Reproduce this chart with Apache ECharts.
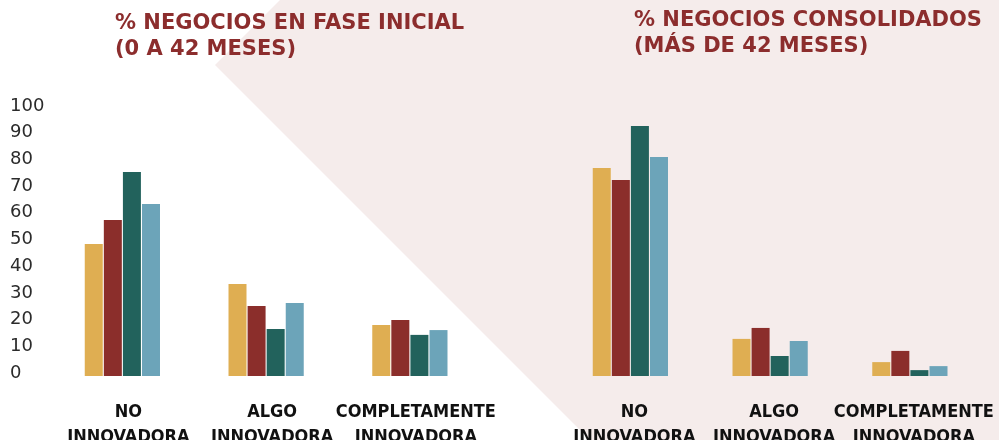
<!DOCTYPE html>
<html>
<head>
<meta charset="utf-8">
<script src="https://cdn.jsdelivr.net/npm/echarts@6/dist/echarts.min.js"></script>
<style>
  html, body { margin: 0; padding: 0; background: #fff; }
  #chart { width: 999px; height: 440px; }
</style>
</head>
<body>
<div id="chart"></div>
<script>
  // categories and values (percent)
  const categories = ['NO\nINNOVADORA', 'ALGO\nINNOVADORA', 'COMPLETAMENTE\nINNOVADORA']
  const yTicks = [0, 10, 20, 30, 40, 50, 60, 70, 80, 90, 100]
  const titles = ['% NEGOCIOS EN FASE INICIAL\n(0 A 42 MESES)', '% NEGOCIOS CONSOLIDADOS\n(MÁS DE 42 MESES)']

  // fase inicial
  const inicialA = [49.4, 34.5, 19.1]
  const inicialB = [58.4, 26.2, 21.0]
  const inicialC = [76.4, 17.6, 15.4]
  const inicialD = [64.4, 27.3, 17.2]
  // consolidados
  const consolA = [77.9, 13.9, 5.2]
  const consolB = [73.4, 18.0, 9.4]
  const consolC = [93.6, 7.5, 2.2]
  const consolD = [82.0, 13.1, 3.7]

  const colors = ['#dfae52', '#8b2e2b', '#22625c', '#6ca4b9']
  const panels = [
    [inicialA, inicialB, inicialC, inicialD],
    [consolA, consolB, consolC, consolD]
  ]

  const chart = echarts.init(document.getElementById('chart'))

  const grids = [
    { left: 50.5, width: 431.25, top: 109, bottom: 64, outerBoundsMode: 'none', containLabel: false },
    { left: 560.5, width: 419.25, top: 109, bottom: 64, outerBoundsMode: 'none', containLabel: false }
  ]

  const xAxis = grids.map((g, i) => ({
    type: 'category',
    gridIndex: i,
    data: categories,
    axisLine: { show: false },
    axisTick: { show: false },
    axisLabel: {
      interval: 0,
      margin: 24,
      padding: [0, 0, 0, i === 0 ? 12 : 8],
      color: '#111',
      fontFamily: 'DejaVu Sans Condensed',
      fontWeight: 'bold',
      fontSize: 18,
      lineHeight: 25
    }
  }))

  const yAxis = grids.map((g, i) => ({
    type: 'value',
    gridIndex: i,
    min: yTicks[0],
    max: yTicks[yTicks.length - 1],
    interval: 10,
    splitLine: { show: false },
    axisLine: { show: false },
    axisTick: { show: false },
    axisLabel: {
      show: i === 0,
      align: 'left',
      verticalAlign: 'bottom',
      lineHeight: 6,
      margin: 40.5,
      color: '#2b2b2b',
      fontFamily: 'DejaVu Sans',
      fontSize: 18
    }
  }))

  let series = []
  panels.forEach((panel, p) => {
    panel.forEach((vals, s) => {
      series.push({
        type: 'bar',
        xAxisIndex: p,
        yAxisIndex: p,
        data: vals,
        barWidth: 18,
        barGap: '6%',
        itemStyle: { color: colors[s] }
      })
    })
  })

  chart.setOption({
    animation: false,
    backgroundColor: '#fff',
    grid: grids,
    xAxis: xAxis,
    yAxis: yAxis,
    series: series,
    graphic: [
      {
        type: 'polygon',
        z: -10,
        silent: true,
        shape: { points: [[280, 0], [999, 0], [999, 440], [590, 440], [215, 65]] },
        style: { fill: '#f5eceb' }
      },
      {
        type: 'text',
        left: 115,
        top: 11,
        style: {
          text: titles[0],
          fill: '#8c2d2d',
          font: 'bold 21px "DejaVu Sans"',
          lineHeight: 26
        }
      },
      {
        type: 'text',
        left: 634,
        top: 8,
        style: {
          text: titles[1],
          fill: '#8c2d2d',
          font: 'bold 21px "DejaVu Sans"',
          lineHeight: 26
        }
      }
    ]
  })
</script>
</body>
</html>
